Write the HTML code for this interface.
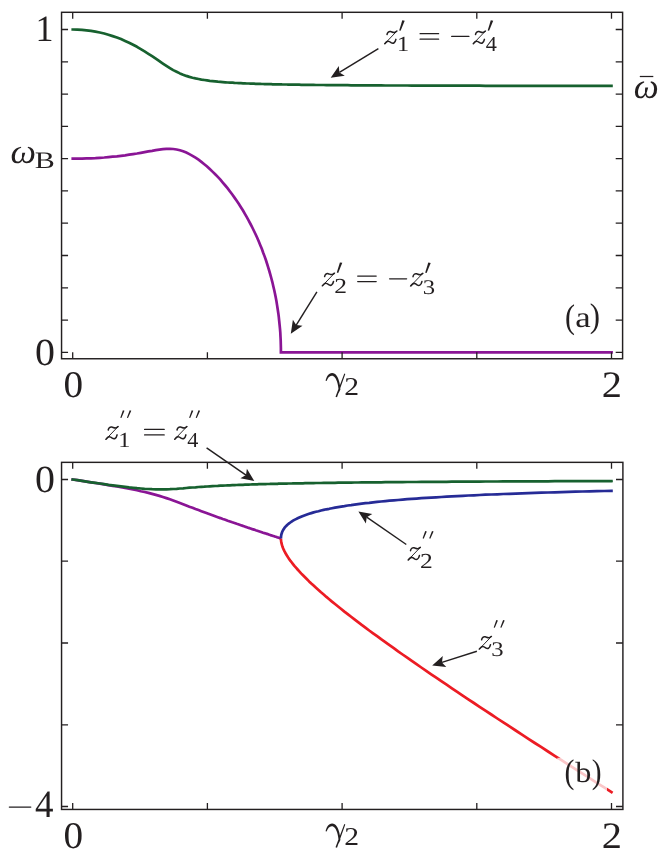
<!DOCTYPE html>
<html><head><meta charset="utf-8"><title>fig</title>
<style>
html,body{margin:0;padding:0;background:#fff}
body{width:665px;height:857px;overflow:hidden;font-family:"Liberation Serif",serif}
svg{display:block;will-change:transform}
text{font-family:"Liberation Serif",serif;fill:#231f20;text-rendering:geometricPrecision}
.c{fill:none;stroke-width:2.7;stroke-linejoin:round}
</style></head><body>
<svg width="665" height="857" viewBox="0 0 665 857">
<rect width="665" height="857" fill="#fff"/>
<g id="panel-a">
<path class="c" d="M71.4,158.7 72.7,158.7 77.4,158.6 82.0,158.6 86.5,158.4 91.0,158.3 95.4,158.1 99.8,157.8 104.2,157.5 108.4,157.1 112.7,156.7 116.9,156.3 121.0,155.8 125.1,155.3 129.1,154.7 133.1,154.1 137.0,153.5 140.8,152.8 144.6,152.1 148.4,151.4 152.1,150.8 155.8,150.1 159.4,149.6 162.9,149.2 166.4,148.9 169.9,148.8 173.2,149.0 176.6,149.5 179.9,150.3 183.1,151.3 186.3,152.6 189.4,154.1 192.5,155.8 195.5,157.7 198.5,159.7 201.4,161.9 204.3,164.2 207.1,166.5 209.8,169.0 212.5,171.6 215.2,174.2 217.8,176.9 220.4,179.7 222.8,182.6 225.3,185.5 227.7,188.4 230.0,191.5 232.3,194.5 234.5,197.6 236.7,200.8 238.9,204.0 240.9,207.2 243.0,210.5 244.9,213.9 246.8,217.2 248.7,220.6 250.5,224.0 252.3,227.5 254.0,231.0 255.7,234.5 257.3,238.0 258.8,241.6 260.3,245.2 261.8,248.8 263.1,252.5 264.5,256.1 265.8,259.8 267.0,263.5 268.2,267.3 269.3,271.0 270.4,274.8 271.4,278.5 272.4,282.3 273.3,286.2 274.2,290.0 275.0,293.8 275.8,297.7 276.5,301.5 277.1,305.4 277.7,309.3 278.3,313.2 278.8,317.1 279.2,321.0 279.6,324.9 280.0,328.8 280.3,332.7 280.5,336.7 280.7,340.6 280.8,344.5 280.9,348.5 280.9,352.4 611.5,352.4 612.9,352.4" stroke="#8a1595" style="stroke-linejoin:miter"/>
<path class="c" d="M71.4,29.5 72.7,29.5 77.4,29.6 82.0,29.8 86.5,30.3 91.0,30.9 95.4,31.6 99.8,32.5 104.2,33.5 108.4,34.7 112.7,36.1 116.9,37.5 121.0,39.1 125.1,40.9 129.1,42.7 133.1,44.7 137.0,46.8 140.8,49.1 144.6,51.4 148.4,53.8 152.1,56.2 155.8,58.7 159.4,61.2 162.9,63.6 166.4,65.9 169.9,68.1 173.2,70.1 176.6,71.8 179.9,73.4 183.1,74.7 186.3,75.9 189.4,76.9 192.5,77.7 195.5,78.4 198.5,79.0 201.4,79.6 204.3,80.0 207.1,80.4 209.8,80.8 212.5,81.1 215.2,81.4 217.8,81.7 220.4,81.9 222.8,82.1 225.3,82.3 227.7,82.5 230.0,82.6 232.3,82.7 234.5,82.9 236.7,83.0 238.9,83.1 240.9,83.2 243.0,83.3 244.9,83.4 246.8,83.5 248.7,83.5 250.5,83.6 252.3,83.7 254.0,83.7 255.7,83.8 257.3,83.8 258.8,83.9 260.3,83.9 261.8,84.0 263.1,84.0 264.5,84.1 265.8,84.1 267.0,84.1 268.2,84.2 269.3,84.2 270.4,84.2 271.4,84.2 272.4,84.3 273.3,84.3 274.2,84.3 275.0,84.3 275.8,84.3 276.5,84.3 277.1,84.4 277.7,84.4 278.3,84.4 278.8,84.4 279.2,84.4 279.6,84.4 280.0,84.4 280.3,84.4 280.5,84.4 280.7,84.4 280.8,84.4 280.9,84.4 281.0,84.4 281.1,84.4 281.3,84.4 281.6,84.4 282.0,84.5 282.4,84.5 283.0,84.5 283.6,84.5 284.3,84.5 285.1,84.5 286.0,84.5 286.9,84.5 288.0,84.6 289.1,84.6 290.3,84.6 291.6,84.6 293.0,84.6 294.4,84.7 296.0,84.7 297.6,84.7 299.3,84.7 301.1,84.8 303.0,84.8 305.0,84.8 307.0,84.8 309.1,84.9 311.3,84.9 313.6,84.9 316.0,85.0 318.5,85.0 321.0,85.0 323.7,85.0 326.4,85.1 329.2,85.1 332.0,85.1 335.0,85.1 338.1,85.2 341.2,85.2 344.4,85.2 347.7,85.2 351.1,85.3 354.5,85.3 358.1,85.3 361.7,85.3 365.4,85.4 369.2,85.4 373.1,85.4 377.1,85.4 381.1,85.4 385.3,85.5 389.5,85.5 393.8,85.5 398.1,85.5 402.6,85.5 407.2,85.5 411.8,85.6 416.5,85.6 421.3,85.6 426.2,85.6 431.2,85.6 436.2,85.6 441.3,85.7 446.6,85.7 451.9,85.7 457.2,85.7 462.7,85.7 468.3,85.7 473.9,85.7 479.6,85.7 485.4,85.8 491.3,85.8 497.3,85.8 503.3,85.8 509.5,85.8 515.7,85.8 522.0,85.8 528.4,85.8 534.8,85.8 541.4,85.8 548.0,85.9 554.7,85.9 561.5,85.9 568.4,85.9 575.4,85.9 582.5,85.9 589.6,85.9 596.8,85.9 604.1,85.9 611.5,85.9 612.8,85.9" stroke="#17612f"/>
<rect x="61.55" y="12.3" width="561.05" height="346.45" fill="none" stroke="#231f20" stroke-width="1.45"/>
<path d="M72.7,12.3v6.5M72.7,358.75v-6.5M207.4,12.3v6.5M207.4,358.75v-6.5M342.1,12.3v6.5M342.1,358.75v-6.5M476.8,12.3v6.5M476.8,358.75v-6.5M611.5,12.3v6.5M611.5,358.75v-6.5M61.55,352.4h6.5M622.6,352.4h-6.9M61.55,320.1h6.5M622.6,320.1h-6.9M61.55,287.8h6.5M622.6,287.8h-6.9M61.55,255.5h6.5M622.6,255.5h-6.9M61.55,223.2h6.5M622.6,223.2h-6.9M61.55,190.9h6.5M622.6,190.9h-6.9M61.55,158.7h6.5M622.6,158.7h-6.9M61.55,126.4h6.5M622.6,126.4h-6.9M61.55,94.1h6.5M622.6,94.1h-6.9M61.55,61.8h6.5M622.6,61.8h-6.9M61.55,29.5h6.5M622.6,29.5h-6.9" fill="none" stroke="#231f20" stroke-width="1.3"/>
<line x1="378.4" y1="48.6" x2="339.4" y2="72.4" stroke="#231f20" stroke-width="1.45"/><path d="M330.7,77.7L338.8,66.1L339.4,72.4L344.8,75.8Z" fill="#231f20"/>
<line x1="316.9" y1="291.9" x2="296.2" y2="325.1" stroke="#231f20" stroke-width="1.45"/><path d="M290.8,333.7L292.9,319.7L296.2,325.1L302.5,325.7Z" fill="#231f20"/>
<text transform="translate(35.58,41.00) scale(0.972,1)" font-size="37.09">1</text>
<text transform="translate(34.96,364.74) scale(1.041,1)" font-size="38.36">0</text>
<text transform="translate(63.46,397.47) scale(1.040,1)" font-size="37.71">0</text>
<text transform="translate(601.76,397.24) scale(1.085,1)" font-size="37.27">2</text>
<path transform="translate(0,0)" d="M325.6,380.8C326.1,377.2 328.5,372.9 332.1,372.9C335.9,372.9 338.1,377.0 339.3,382.0C339.9,384.6 340.3,387.2 340.4,389.6L338.7,393.0C338.7,388.8 338.0,384.6 337.0,381.6C335.9,378.3 334.3,375.7 331.7,375.7C329.3,375.7 327.7,377.9 326.6,381.0ZM344.3,373.5L345.3,374.0L337.0,397.2L335.5,396.7Z" fill="#231f20"><title>γ</title></path>
<text transform="translate(344.37,394.76) scale(1.154,1)" font-size="25.72">2</text>
<text transform="translate(10.45,162.78) scale(1.035,1)" font-size="34.92" font-style="italic">ω</text>
<text transform="translate(34.69,168.17) scale(1.274,1)" font-size="23.58">B</text>
<text transform="translate(633.72,97.75) scale(0.989,1)" font-size="35.74" font-style="italic">ω</text>
<line x1="639.8" y1="76.5" x2="653.3" y2="76.5" stroke="#231f20" stroke-width="1.25"/>
<g transform="translate(384.50,30.80)" fill="none" stroke="#231f20" stroke-linecap="round" stroke-linejoin="round"><title>z</title><path d="M2.5,3.7C2.9,1.5 4.4,0.35 6.1,0.75C7.7,1.15 9.0,2.1 10.5,1.5L12.3,0.35" stroke-width="1.5"/><path d="M12.35,0.3L0.3,12.9" stroke-width="0.95"/><path d="M0.3,12.9L2.0,11.1C3.5,9.6 5.1,10.6 6.6,11.8C8.4,13.1 10.5,12.6 11.4,8.6" stroke-width="1.55"/></g>
<text transform="translate(396.94,51.02) scale(1.128,1)" font-size="21.56">1</text>
<path d="M402.30,20.30L404.70,20.75L400.60,30.80L399.20,30.45Z" fill="#231f20"><title>′</title></path>
<path d="M420.1,33.70H438.6M420.1,39.20H438.6" stroke="#231f20" stroke-width="1.3" stroke-linecap="round" fill="none"><title>=</title></path>
<path d="M451.7,36.45H468.9" stroke="#231f20" stroke-width="1.3" stroke-linecap="round" fill="none"><title>−</title></path>
<g transform="translate(473.00,30.80)" fill="none" stroke="#231f20" stroke-linecap="round" stroke-linejoin="round"><title>z</title><path d="M2.5,3.7C2.9,1.5 4.4,0.35 6.1,0.75C7.7,1.15 9.0,2.1 10.5,1.5L12.3,0.35" stroke-width="1.5"/><path d="M12.35,0.3L0.3,12.9" stroke-width="0.95"/><path d="M0.3,12.9L2.0,11.1C3.5,9.6 5.1,10.6 6.6,11.8C8.4,13.1 10.5,12.6 11.4,8.6" stroke-width="1.55"/></g>
<text transform="translate(485.70,51.02) scale(1.045,1)" font-size="21.31">4</text>
<path d="M490.80,20.30L493.20,20.75L489.10,30.80L487.70,30.45Z" fill="#231f20"><title>′</title></path>
<g transform="translate(322.10,272.90)" fill="none" stroke="#231f20" stroke-linecap="round" stroke-linejoin="round"><title>z</title><path d="M2.5,3.7C2.9,1.5 4.4,0.35 6.1,0.75C7.7,1.15 9.0,2.1 10.5,1.5L12.3,0.35" stroke-width="1.5"/><path d="M12.35,0.3L0.3,12.9" stroke-width="0.95"/><path d="M0.3,12.9L2.0,11.1C3.5,9.6 5.1,10.6 6.6,11.8C8.4,13.1 10.5,12.6 11.4,8.6" stroke-width="1.55"/></g>
<text transform="translate(334.33,293.26) scale(1.192,1)" font-size="21.38">2</text>
<path d="M339.90,262.40L342.30,262.85L338.20,272.90L336.80,272.55Z" fill="#231f20"><title>′</title></path>
<path d="M357.7,276.05H376.2M357.7,281.55H376.2" stroke="#231f20" stroke-width="1.3" stroke-linecap="round" fill="none"><title>=</title></path>
<path d="M389.6,278.8H406.6" stroke="#231f20" stroke-width="1.3" stroke-linecap="round" fill="none"><title>−</title></path>
<g transform="translate(410.50,273.00)" fill="none" stroke="#231f20" stroke-linecap="round" stroke-linejoin="round"><title>z</title><path d="M2.5,3.7C2.9,1.5 4.4,0.35 6.1,0.75C7.7,1.15 9.0,2.1 10.5,1.5L12.3,0.35" stroke-width="1.5"/><path d="M12.35,0.3L0.3,12.9" stroke-width="0.95"/><path d="M0.3,12.9L2.0,11.1C3.5,9.6 5.1,10.6 6.6,11.8C8.4,13.1 10.5,12.6 11.4,8.6" stroke-width="1.55"/></g>
<text transform="translate(422.72,293.67) scale(1.184,1)" font-size="20.89">3</text>
<path d="M428.30,262.50L430.70,262.95L426.60,273.00L425.20,272.65Z" fill="#231f20"><title>′</title></path>
<text transform="translate(565.10,327.55) scale(0.877,1)" font-size="34.25">(</text>
<text transform="translate(575.32,326.85) scale(1.188,1)" font-size="29.28">a</text>
<text transform="translate(589.77,327.38) scale(0.901,1)" font-size="34.18">)</text>
</g>
<g id="panel-b">
<path class="c" d="M71.4,479.3 72.7,479.5 77.4,480.2 82.0,480.9 86.5,481.6 91.0,482.3 95.4,483.0 99.8,483.7 104.2,484.4 108.4,485.1 112.7,485.8 116.9,486.5 121.0,487.2 125.1,488.0 129.1,488.7 133.1,489.5 137.0,490.3 140.8,491.2 144.6,492.0 148.4,492.9 152.1,493.9 155.8,494.9 159.4,495.9 162.9,497.0 166.4,498.1 169.9,499.3 173.2,500.5 176.6,501.8 179.9,503.0 183.1,504.2 186.3,505.5 189.4,506.7 192.5,507.8 195.5,509.0 198.5,510.1 201.4,511.2 204.3,512.3 207.1,513.3 209.8,514.3 212.5,515.3 215.2,516.3 217.8,517.2 220.4,518.1 222.8,519.0 225.3,519.8 227.7,520.7 230.0,521.5 232.3,522.3 234.5,523.0 236.7,523.8 238.9,524.5 240.9,525.2 243.0,525.9 244.9,526.6 246.8,527.2 248.7,527.9 250.5,528.5 252.3,529.1 254.0,529.6 255.7,530.2 257.3,530.7 258.8,531.2 260.3,531.7 261.8,532.2 263.1,532.7 264.5,533.1 265.8,533.5 267.0,533.9 268.2,534.3 269.3,534.7 270.4,535.1 271.4,535.4 272.4,535.7 273.3,536.0 274.2,536.3 275.0,536.6 275.8,536.8 276.5,537.0 277.1,537.3 277.7,537.5 278.3,537.6 278.8,537.8 279.2,537.9 279.6,538.1 280.0,538.2 280.3,538.3 280.5,538.4 280.7,538.4 280.8,538.5 280.9,538.5" stroke="#8a1595"/>
<path class="c" d="M280.9,538.5 281.0,539.8 281.1,541.1 281.3,542.4 281.6,543.7 282.0,545.1 282.4,546.5 283.0,548.0 283.6,549.4 284.3,550.9 285.1,552.5 286.0,554.0 286.9,555.6 288.0,557.3 289.1,558.9 290.3,560.6 291.6,562.3 293.0,564.1 294.4,565.9 296.0,567.7 297.6,569.5 299.3,571.4 301.1,573.4 303.0,575.3 305.0,577.3 307.0,579.3 309.1,581.4 311.3,583.5 313.6,585.6 316.0,587.8 318.5,590.0 321.0,592.3 323.7,594.5 326.4,596.9 329.2,599.2 332.0,601.6 335.0,604.0 338.1,606.5 341.2,609.0 344.4,611.6 347.7,614.1 351.1,616.8 354.5,619.4 358.1,622.1 361.7,624.9 365.4,627.6 369.2,630.5 373.1,633.3 377.1,636.2 381.1,639.2 385.3,642.2 389.5,645.2 393.8,648.2 398.1,651.4 402.6,654.5 407.2,657.7 411.8,660.9 416.5,664.2 421.3,667.5 426.2,670.9 431.2,674.3 436.2,677.7 441.3,681.2 446.6,684.7 451.9,688.3 457.2,691.9 462.7,695.6 468.3,699.3 473.9,703.0 479.6,706.8 485.4,710.7 491.3,714.5 497.3,718.5 503.3,722.4 509.5,726.4 515.7,730.5 522.0,734.6 528.4,738.8 534.8,743.0 541.4,747.2 548.0,751.5 554.7,755.8 561.5,760.2 568.4,764.6 575.4,769.1 582.5,773.6 589.6,778.1 596.8,782.8 604.1,787.4 611.5,792.1 612.6,792.8" stroke="#ec1c24"/>
<path class="c" d="M280.9,538.5 281.0,537.3 281.1,536.0 281.3,534.8 281.6,533.7 282.0,532.5 282.4,531.4 283.0,530.3 283.6,529.3 284.3,528.2 285.1,527.2 286.0,526.2 286.9,525.3 288.0,524.3 289.1,523.4 290.3,522.5 291.6,521.6 293.0,520.7 294.4,519.9 296.0,519.1 297.6,518.3 299.3,517.5 301.1,516.7 303.0,515.9 305.0,515.2 307.0,514.5 309.1,513.8 311.3,513.1 313.6,512.4 316.0,511.8 318.5,511.2 321.0,510.5 323.7,509.9 326.4,509.3 329.2,508.8 332.0,508.2 335.0,507.6 338.1,507.1 341.2,506.6 344.4,506.1 347.7,505.5 351.1,505.1 354.5,504.6 358.1,504.1 361.7,503.6 365.4,503.2 369.2,502.8 373.1,502.3 377.1,501.9 381.1,501.5 385.3,501.1 389.5,500.7 393.8,500.3 398.1,500.0 402.6,499.6 407.2,499.2 411.8,498.9 416.5,498.6 421.3,498.2 426.2,497.9 431.2,497.6 436.2,497.3 441.3,497.0 446.6,496.7 451.9,496.4 457.2,496.1 462.7,495.8 468.3,495.5 473.9,495.3 479.6,495.0 485.4,494.7 491.3,494.5 497.3,494.3 503.3,494.0 509.5,493.8 515.7,493.6 522.0,493.3 528.4,493.1 534.8,492.9 541.4,492.7 548.0,492.5 554.7,492.3 561.5,492.1 568.4,491.9 575.4,491.7 582.5,491.5 589.6,491.3 596.8,491.1 604.1,491.0 611.5,490.8 612.8,490.8" stroke="#262b96"/>
<path class="c" d="M71.4,479.3 72.7,479.5 77.4,480.2 82.0,480.9 86.5,481.6 91.0,482.3 95.4,482.9 99.8,483.5 104.2,484.2 108.4,484.8 112.7,485.3 116.9,485.9 121.0,486.4 125.1,486.9 129.1,487.4 133.1,487.8 137.0,488.2 140.8,488.5 144.6,488.8 148.4,489.0 152.1,489.2 155.8,489.3 159.4,489.4 162.9,489.4 166.4,489.3 169.9,489.2 173.2,489.0 176.6,488.8 179.9,488.5 183.1,488.3 186.3,488.0 189.4,487.7 192.5,487.5 195.5,487.3 198.5,487.0 201.4,486.8 204.3,486.7 207.1,486.5 209.8,486.3 212.5,486.1 215.2,486.0 217.8,485.9 220.4,485.7 222.8,485.6 225.3,485.5 227.7,485.4 230.0,485.3 232.3,485.2 234.5,485.1 236.7,485.0 238.9,484.9 240.9,484.8 243.0,484.8 244.9,484.7 246.8,484.6 248.7,484.6 250.5,484.5 252.3,484.4 254.0,484.4 255.7,484.3 257.3,484.3 258.8,484.2 260.3,484.2 261.8,484.2 263.1,484.1 264.5,484.1 265.8,484.1 267.0,484.0 268.2,484.0 269.3,484.0 270.4,483.9 271.4,483.9 272.4,483.9 273.3,483.9 274.2,483.8 275.0,483.8 275.8,483.8 276.5,483.8 277.1,483.8 277.7,483.8 278.3,483.7 278.8,483.7 279.2,483.7 279.6,483.7 280.0,483.7 280.3,483.7 280.5,483.7 280.7,483.7 280.8,483.7 280.9,483.7 281.0,483.7 281.1,483.7 281.3,483.7 281.6,483.7 282.0,483.7 282.4,483.7 283.0,483.6 283.6,483.6 284.3,483.6 285.1,483.6 286.0,483.6 286.9,483.6 288.0,483.5 289.1,483.5 290.3,483.5 291.6,483.5 293.0,483.4 294.4,483.4 296.0,483.4 297.6,483.4 299.3,483.3 301.1,483.3 303.0,483.3 305.0,483.2 307.0,483.2 309.1,483.1 311.3,483.1 313.6,483.1 316.0,483.0 318.5,483.0 321.0,483.0 323.7,482.9 326.4,482.9 329.2,482.8 332.0,482.8 335.0,482.8 338.1,482.7 341.2,482.7 344.4,482.6 347.7,482.6 351.1,482.6 354.5,482.5 358.1,482.5 361.7,482.4 365.4,482.4 369.2,482.4 373.1,482.3 377.1,482.3 381.1,482.3 385.3,482.2 389.5,482.2 393.8,482.1 398.1,482.1 402.6,482.1 407.2,482.0 411.8,482.0 416.5,482.0 421.3,481.9 426.2,481.9 431.2,481.9 436.2,481.8 441.3,481.8 446.6,481.8 451.9,481.7 457.2,481.7 462.7,481.7 468.3,481.6 473.9,481.6 479.6,481.6 485.4,481.5 491.3,481.5 497.3,481.5 503.3,481.4 509.5,481.4 515.7,481.4 522.0,481.4 528.4,481.3 534.8,481.3 541.4,481.3 548.0,481.3 554.7,481.2 561.5,481.2 568.4,481.2 575.4,481.2 582.5,481.1 589.6,481.1 596.8,481.1 604.1,481.1 611.5,481.1 612.8,481.0" stroke="#17612f"/>
<rect x="557.3" y="757.8" width="49.7" height="38" fill="#fff" fill-opacity="0.75"/>
<rect x="61.55" y="462.35" width="561.35" height="347.10" fill="none" stroke="#231f20" stroke-width="1.45"/>
<path d="M72.7,462.35v6.5M72.7,809.45v-6.5M207.4,462.35v6.5M207.4,809.45v-6.5M342.1,462.35v6.5M342.1,809.45v-6.5M476.8,462.35v6.5M476.8,809.45v-6.5M611.5,462.35v6.5M611.5,809.45v-6.5M61.55,479.5h6.5M622.9,479.5h-6.9M61.55,561.2h6.5M622.9,561.2h-6.9M61.55,643.0h6.5M622.9,643.0h-6.9M61.55,724.8h6.5M622.9,724.8h-6.9M61.55,806.5h6.5M622.9,806.5h-6.9" fill="none" stroke="#231f20" stroke-width="1.3"/>
<line x1="206.6" y1="447.8" x2="246.0" y2="475.1" stroke="#231f20" stroke-width="1.45"/><path d="M254.3,480.9L240.4,478.2L246.0,475.1L246.9,468.8Z" fill="#231f20"/>
<line x1="406.3" y1="544.5" x2="366.7" y2="517.2" stroke="#231f20" stroke-width="1.45"/><path d="M358.4,511.4L372.3,514.1L366.7,517.2L365.9,523.5Z" fill="#231f20"/>
<line x1="476.9" y1="651.2" x2="441.9" y2="662.4" stroke="#231f20" stroke-width="1.45"/><path d="M432.2,665.5L442.8,656.1L441.9,662.4L446.3,667.0Z" fill="#231f20"/>
<text transform="translate(34.96,492.00) scale(1.041,1)" font-size="38.36">0</text>
<text transform="translate(34.89,817.02) scale(0.958,1)" font-size="38.64">4</text>
<path d="M9.4,807.1H30.7" stroke="#231f20" stroke-width="1.45" stroke-linecap="round" fill="none"><title>−</title></path>
<text transform="translate(63.46,847.97) scale(1.040,1)" font-size="37.71">0</text>
<text transform="translate(601.76,847.74) scale(1.085,1)" font-size="37.27">2</text>
<path transform="translate(0,450.5)" d="M325.6,380.8C326.1,377.2 328.5,372.9 332.1,372.9C335.9,372.9 338.1,377.0 339.3,382.0C339.9,384.6 340.3,387.2 340.4,389.6L338.7,393.0C338.7,388.8 338.0,384.6 337.0,381.6C335.9,378.3 334.3,375.7 331.7,375.7C329.3,375.7 327.7,377.9 326.6,381.0ZM344.3,373.5L345.3,374.0L337.0,397.2L335.5,396.7Z" fill="#231f20"><title>γ</title></path>
<text transform="translate(344.37,845.26) scale(1.154,1)" font-size="25.72">2</text>
<g transform="translate(105.70,426.30)" fill="none" stroke="#231f20" stroke-linecap="round" stroke-linejoin="round"><title>z</title><path d="M2.5,3.7C2.9,1.5 4.4,0.35 6.1,0.75C7.7,1.15 9.0,2.1 10.5,1.5L12.3,0.35" stroke-width="1.5"/><path d="M12.35,0.3L0.3,12.9" stroke-width="0.95"/><path d="M0.3,12.9L2.0,11.1C3.5,9.6 5.1,10.6 6.6,11.8C8.4,13.1 10.5,12.6 11.4,8.6" stroke-width="1.55"/></g>
<text transform="translate(118.13,446.52) scale(1.130,1)" font-size="21.50">1</text>
<path d="M122.90,410.30L124.50,410.75L121.40,418.00L120.30,417.65ZM129.70,410.30L131.30,410.75L128.00,418.00L126.90,417.65Z" fill="#231f20"><title>″</title></path>
<path d="M144.6,429.45H164.2M144.6,434.95H164.2" stroke="#231f20" stroke-width="1.3" stroke-linecap="round" fill="none"><title>=</title></path>
<g transform="translate(174.50,426.30)" fill="none" stroke="#231f20" stroke-linecap="round" stroke-linejoin="round"><title>z</title><path d="M2.5,3.7C2.9,1.5 4.4,0.35 6.1,0.75C7.7,1.15 9.0,2.1 10.5,1.5L12.3,0.35" stroke-width="1.5"/><path d="M12.35,0.3L0.3,12.9" stroke-width="0.95"/><path d="M0.3,12.9L2.0,11.1C3.5,9.6 5.1,10.6 6.6,11.8C8.4,13.1 10.5,12.6 11.4,8.6" stroke-width="1.55"/></g>
<text transform="translate(187.23,446.52) scale(1.034,1)" font-size="21.46">4</text>
<path d="M191.70,410.30L193.30,410.75L190.20,418.00L189.10,417.65ZM198.50,410.30L200.10,410.75L196.80,418.00L195.70,417.65Z" fill="#231f20"><title>″</title></path>
<g transform="translate(408.00,547.00)" fill="none" stroke="#231f20" stroke-linecap="round" stroke-linejoin="round"><title>z</title><path d="M2.5,3.7C2.9,1.5 4.4,0.35 6.1,0.75C7.7,1.15 9.0,2.1 10.5,1.5L12.3,0.35" stroke-width="1.5"/><path d="M12.35,0.3L0.3,12.9" stroke-width="0.95"/><path d="M0.3,12.9L2.0,11.1C3.5,9.6 5.1,10.6 6.6,11.8C8.4,13.1 10.5,12.6 11.4,8.6" stroke-width="1.55"/></g>
<text transform="translate(420.09,567.50) scale(1.192,1)" font-size="21.38">2</text>
<path d="M425.20,531.00L426.80,531.45L423.70,538.70L422.60,538.35ZM432.00,531.00L433.60,531.45L430.30,538.70L429.20,538.35Z" fill="#231f20"><title>″</title></path>
<g transform="translate(479.10,636.10)" fill="none" stroke="#231f20" stroke-linecap="round" stroke-linejoin="round"><title>z</title><path d="M2.5,3.7C2.9,1.5 4.4,0.35 6.1,0.75C7.7,1.15 9.0,2.1 10.5,1.5L12.3,0.35" stroke-width="1.5"/><path d="M12.35,0.3L0.3,12.9" stroke-width="0.95"/><path d="M0.3,12.9L2.0,11.1C3.5,9.6 5.1,10.6 6.6,11.8C8.4,13.1 10.5,12.6 11.4,8.6" stroke-width="1.55"/></g>
<text transform="translate(491.33,656.23) scale(1.181,1)" font-size="20.91">3</text>
<path d="M496.30,620.10L497.90,620.55L494.80,627.80L493.70,627.45ZM503.10,620.10L504.70,620.55L501.40,627.80L500.30,627.45Z" fill="#231f20"><title>″</title></path>
<text transform="translate(564.50,782.69) scale(0.869,1)" font-size="34.29">(</text>
<text transform="translate(575.31,781.83) scale(1.108,1)" font-size="29.10">b</text>
<text transform="translate(591.77,782.70) scale(0.857,1)" font-size="34.38">)</text>
</g>
</svg>
</body></html>
